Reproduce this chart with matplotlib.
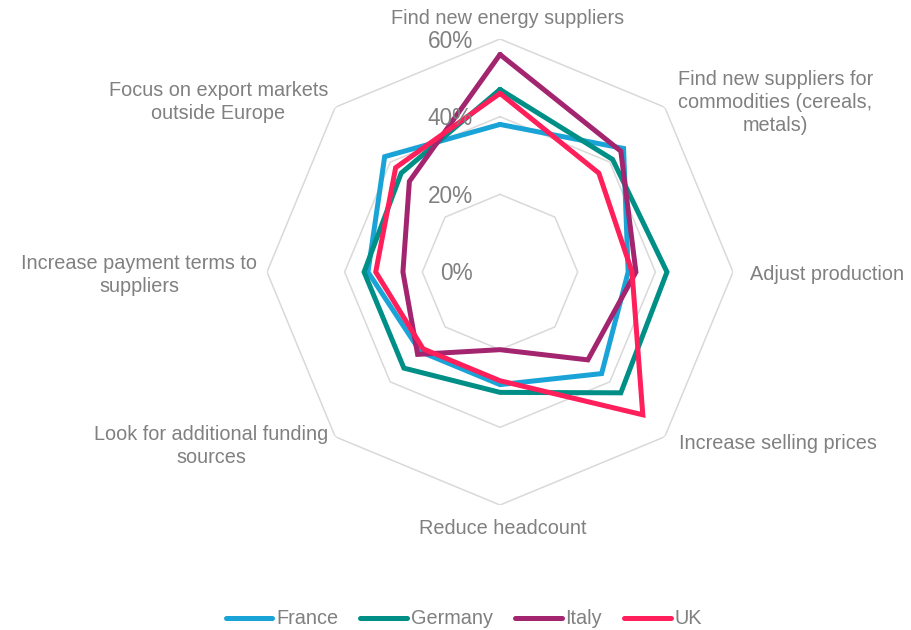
import numpy as np
import matplotlib.pyplot as plt

categories = ['Find new energy suppliers',
              'Find new suppliers for\ncommodities (cereals,\nmetals)',
              'Adjust production',
              'Increase selling prices',
              'Reduce headcount',
              'Look for additional funding\nsources',
              'Increase payment terms to\nsuppliers',
              'Focus on export markets\noutside Europe']

france = [38, 45, 33, 37, 29, 29, 34, 42]
germany = [47, 41, 43, 44, 31, 35, 35, 36]
italy = [56, 44, 35, 32, 20, 30, 25, 33]
uk = [46, 36, 34, 52, 28, 28, 32, 38]

series_names = ['France', 'Germany', 'Italy', 'UK']
colors = ['#1AA3D6', '#008F86', '#A3246F', '#FF1F5A']
ticks = [0, 20, 40, 60]

grey = '#808080'
plt.rcParams['font.family'] = ['Liberation Sans', 'DejaVu Sans']

fig = plt.figure(figsize=(9.11, 6.30), dpi=100)
# centre of the web at (500, 272) px, outer ring radius 233 px
R = 233
ax = fig.add_axes([(500 - R) / 911, (630 - 272 - R) / 630, 2 * R / 911, 2 * R / 630],
                  projection='polar')
ax.set_theta_zero_location('N')
ax.set_theta_direction(-1)
ax.set_ylim(0, 60)
ax.grid(False)
ax.spines['polar'].set_visible(False)
ax.set_xticks([])
ax.set_yticks([])

n = len(categories)
theta = np.linspace(0, 2 * np.pi, n, endpoint=False)
theta_c = np.append(theta, theta[0])

# octagon grid rings
for t in ticks[1:]:
    ax.plot(theta_c, [t] * (n + 1), color='#D9D9D9', lw=1.1, zorder=1)

for name, vals, c in zip(series_names, [france, germany, italy, uk], colors):
    ax.plot(theta_c, vals + vals[:1], color=c, lw=3.6, label=name,
            solid_joinstyle='miter', solid_capstyle='round', zorder=3)

# value labels along the top axis
for t in ticks:
    ax.annotate(f'{t}%', xy=(0, t), xytext=(-27, -2), textcoords='offset pixels',
                ha='right', va='center', fontsize=16.3, color=grey, zorder=4)

# category labels: (ha, va, dx, dy) in pixels from the outer vertex
label_pos = [('center', 'center', 8, 20),
             ('left', 'center', 13, 5),
             ('left', 'center', 17, -2),
             ('left', 'center', 14, -7),
             ('center', 'center', 3, -24),
             ('right', 'center', -7, -9),
             ('right', 'center', -10, -3),
             ('right', 'center', -7, 5)]
for th, lab, (ha, va, dx, dy) in zip(theta, categories, label_pos):
    ax.annotate(lab, xy=(th, 60), xytext=(dx, dy), textcoords='offset pixels',
                ha=ha, va=va, multialignment='center', fontsize=14.3,
                color=grey, linespacing=1.28, annotation_clip=False)

leg = fig.legend(loc='center', bbox_to_anchor=(464 / 911, 1 - 619 / 630), ncol=4,
                 frameon=False, fontsize=14.3, handlelength=2.35, handletextpad=0.2,
                 columnspacing=1.1, borderaxespad=0)
for txt in leg.get_texts():
    txt.set_color(grey)

fig.savefig('out.png', dpi=100)
